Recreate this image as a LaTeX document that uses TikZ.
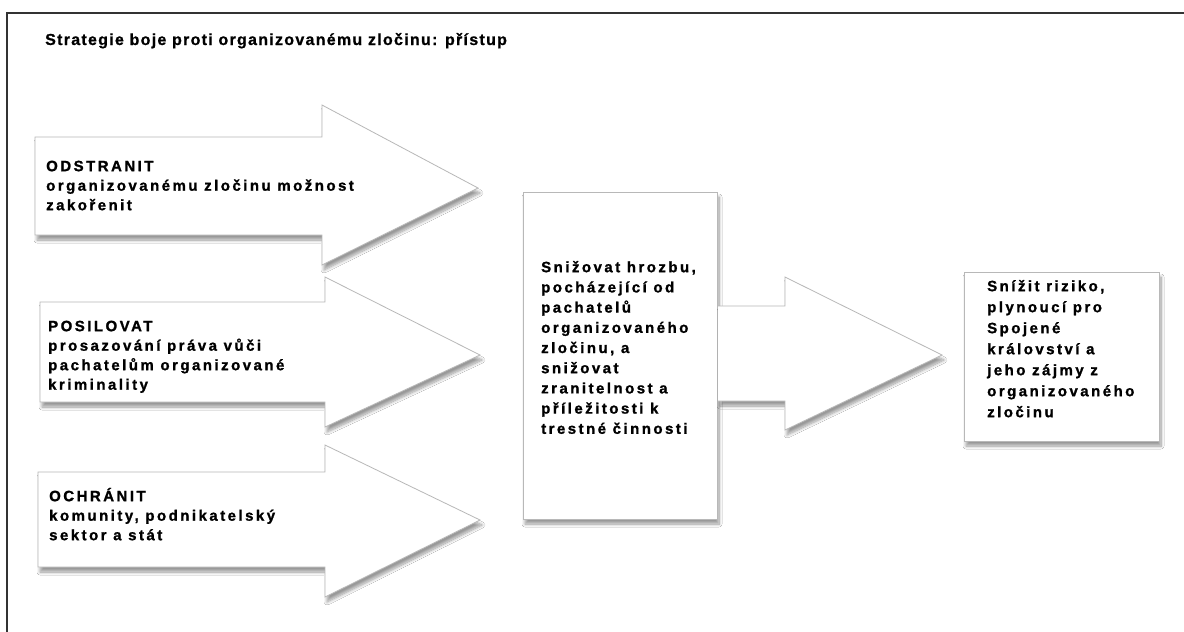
\documentclass[tikz,border=0pt]{standalone}
\usepackage{fontspec}
\setmainfont{Liberation Sans}
\newfontfamily\lblfont[LetterSpace=16.5, FakeBold=1.2, UprightFont=*, BoldFont=* Bold]{Liberation Sans}
\newfontfamily\titlefont[LetterSpace=8, FakeBold=0.8, UprightFont=*, BoldFont=* Bold]{Liberation Sans}
\usetikzlibrary{shadows.blur}
\newcommand\firststrut{\rule{0pt}{14pt}}
\tikzset{
  softshadow/.style={blur shadow={shadow xshift=2pt, shadow yshift=-5pt, shadow opacity=40, shadow blur steps=10, shadow blur radius=3pt}},
  shape3d/.style={fill=white, draw=black!28, line width=0.8pt, line join=miter, softshadow},
  shapefill/.style={fill=white, softshadow},
  outline/.style={draw=black!28, line width=0.8pt, line join=miter},
  lbl/.style={anchor=north west, inner sep=0pt, align=left,
    font=\lblfont\bfseries\fontsize{15}{19.5}\selectfont},
  lblmid/.style={lbl, font=\lblfont\bfseries\fontsize{15}{20.2}\selectfont},
  lblright/.style={lbl, font=\lblfont\bfseries\fontsize{15}{21}\selectfont},
  titlestyle/.style={anchor=base west, inner sep=0pt,
    font=\titlefont\bfseries\fontsize{16}{19}\selectfont},
  frame/.style={draw=black!80, line width=1.6pt}
}
\begin{document}
\begin{tikzpicture}[x=1pt, y=-1pt]
\useasboundingbox[fill=white] (0,0) rectangle (1184,632);
% outer frame (open at right and bottom)
\draw[frame] (7,632) -- (7,13) -- (1184,13);
\node[titlestyle] (title) at (45,45) {Strategie boje proti organizovanému zločinu: přístup};

% arrow 1
\draw[shape3d] (35,137) -- (322,137) -- (322,105) -- (478,188) -- (322,265) -- (322,235) -- (35,235) -- cycle;
\node[lbl] (odstranit) at (46,157) {\firststrut ODSTRANIT\\organizovanému zločinu možnost\\zakořenit};

% arrow 2
\draw[shape3d] (40,302) -- (325,302) -- (325,277) -- (480,355) -- (325,427) -- (325,402) -- (40,402) -- cycle;
\node[lbl] (posilovat) at (48,317) {\firststrut POSILOVAT\\prosazování práva vůči\\pachatelům organizované\\kriminality};

% arrow 3
\draw[shape3d] (38,472) -- (325,472) -- (325,445) -- (480,520) -- (325,597) -- (325,567) -- (38,567) -- cycle;
\node[lbl] (ochranit) at (49,487) {\firststrut OCHRÁNIT\\komunity, podnikatelský\\sektor a stát};

% middle box
\draw[shape3d] (523,192) rectangle (717,519);
\node[lblmid] (mid) at (541,258) {\firststrut Snižovat hrozbu,\\pocházející od\\pachatelů\\organizovaného\\zločinu, a\\snižovat\\zranitelnost a\\příležitosti k\\trestné činnosti};

% arrow 4
\path[shapefill] (718,306) -- (785,306) -- (785,277) -- (942,355) -- (785,430) -- (785,401) -- (718,401) -- cycle;
\draw[outline] (718,306) -- (785,306) -- (785,277) -- (942,355) -- (785,430) -- (785,401) -- (718,401);

% right box
\draw[shape3d] (964,272) rectangle (1159,441);
\node[lblright] (right) at (987,277) {\firststrut Snížit riziko,\\plynoucí pro\\Spojené\\království a\\jeho zájmy z\\organizovaného\\zločinu};
\end{tikzpicture}
\end{document}
